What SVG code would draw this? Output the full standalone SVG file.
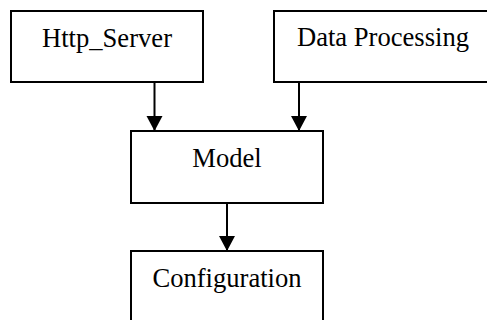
<svg xmlns="http://www.w3.org/2000/svg" width="487" height="320" viewBox="0 0 487 320">
  <defs>
    <marker id="arrow" markerUnits="userSpaceOnUse" markerWidth="16" markerHeight="18" refX="15" refY="8" orient="auto">
      <path d="M0,0 L15,8 L0,16 Z" fill="#000"/>
    </marker>
    <style>
      .box { fill: #fff; stroke: #000; stroke-width: 2; }
      .label { font-family: "Liberation Serif", "Times New Roman", serif; font-size: 26.6px; fill: #000; text-anchor: middle; }
      .edge { stroke: #000; stroke-width: 2; fill: none; marker-end: url(#arrow); }
    </style>
  </defs>
  <rect width="487" height="320" fill="#fff"/>

  <g id="connectors">
    <line class="edge" x1="154.5" y1="83" x2="154.5" y2="131"/>
    <line class="edge" x1="299" y1="83" x2="299" y2="131"/>
    <line class="edge" x1="227" y1="203" x2="227" y2="251"/>
  </g>

  <g id="http_server">
    <rect class="box" x="11" y="11" width="192" height="71"/>
    <text class="label" x="107" y="47">Http_Server</text>
  </g>

  <g id="data_processing">
    <rect class="box" x="274" y="11" width="220" height="71"/>
    <text class="label" x="383" y="46">Data Processing</text>
  </g>

  <g id="model">
    <rect class="box" x="131" y="131" width="192" height="72"/>
    <text class="label" x="227" y="167">Model</text>
  </g>

  <g id="configuration">
    <rect class="box" x="131" y="251" width="192" height="80"/>
    <text class="label" x="227" y="287">Configuration</text>
  </g>
</svg>
